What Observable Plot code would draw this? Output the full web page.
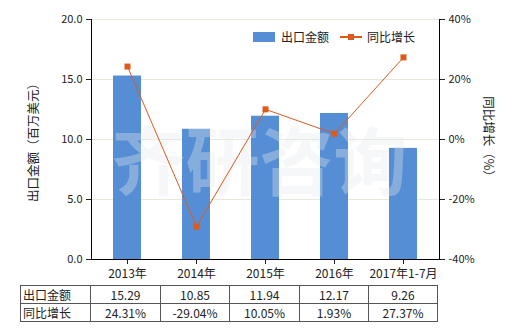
<!DOCTYPE html>
<html>
<head>
<meta charset="utf-8">
<script src="https://cdn.jsdelivr.net/npm/d3@7"></script>
<script src="https://cdn.jsdelivr.net/npm/@observablehq/plot@0.6"></script>
<style>
  body { margin: 0; background: #fff; font-family: "Noto Sans CJK SC", "Noto Sans", sans-serif; }
  #wrap { position: relative; width: 520px; height: 330px; overflow: hidden; }
  #chart { position: absolute; left: 0; top: 0; }
  .legend { position: absolute; font-size: 12px; color: #222; line-height: 14px; }
  table { position: absolute; left: 20px; top: 285px; border-collapse: collapse; font-size: 12px; color: #222; table-layout: fixed; }
  td { border: 1px solid #555; height: 17px; padding: 0; text-align: center; line-height: 17px; }
  td.h { text-align: left; padding-left: 2px; }
</style>
</head>
<body>
<div id="wrap">
  <div id="chart"></div>
  <div class="legend" style="left:253px;top:32px;width:22px;height:10px;background:#558ed5"></div>
  <div class="legend" style="left:281px;top:30px;">出口金额</div>
  <div class="legend" style="left:340px;top:36px;width:22px;height:2px;background:#dd5a1f"></div>
  <div class="legend" style="left:348px;top:34px;width:6px;height:6px;background:#dd5a1f"></div>
  <div class="legend" style="left:367px;top:30px;">同比增长</div>
  <table id="tbl"></table>
</div>
<script>
const categories = ["2013年", "2014年", "2015年", "2016年", "2017年1-7月"];
const exportValues = [15.29, 10.85, 11.94, 12.17, 9.26];
const growthValues = [24.31, -29.04, 10.05, 1.93, 27.37];
const leftTicks = [0, 5, 10, 15, 20];
const rightTicks = [-40, -20, 0, 20, 40];
const seriesNames = ["出口金额", "同比增长"];

const data = categories.map((c, i) => ({cat: c, v: exportValues[i], g: growthValues[i]}));
const g2y = g => (g + 40) / 4;  // map right axis (-40..40) onto left (0..20)

const plot = Plot.plot({
  width: 520,
  height: 280,
  marginTop: 19,
  marginBottom: 21,
  marginLeft: 91,
  marginRight: 81,
  style: {fontFamily: "Noto Sans CJK SC, Noto Sans, sans-serif", fontSize: "11px", color: "#222"},
  x: {domain: categories, paddingInner: 0.6, paddingOuter: 0.3, label: null},
  y: {domain: [0, 20], label: null},
  marks: [
    Plot.ruleY([5, 10, 15, 20], {stroke: "#e9e8dc", strokeWidth: 1}),
    Plot.barY(data, {x: "cat", y: "v", fill: "#558ed5"}),
    Plot.text(["齐研咨询"], {frameAnchor: "middle", textAnchor: "middle", dx: -6, dy: 26, fontSize: 74, fontWeight: "bold", fill: "#e4e8ee", fillOpacity: 0.35, letterSpacing: 16}),
    Plot.line(data, {x: "cat", y: d => g2y(d.g), stroke: "#dd5a1f", strokeWidth: 1}),
    Plot.dot(data, {x: "cat", y: d => g2y(d.g), symbol: "square", r: 3.4, fill: "#dd5a1f", stroke: null}),
    Plot.axisY({anchor: "left", ticks: leftTicks, tickFormat: d3.format(".1f"), tickSize: 5, label: null, fontSize: 11}),
    Plot.axisY({anchor: "right", ticks: rightTicks.map(g2y), tickFormat: d => (d * 4 - 40) + "%", tickSize: 5, label: null, fontSize: 11}),
    Plot.axisX({tickSize: 5, label: null, fontSize: 12, tickPadding: 5}),
    Plot.frame({anchor: "left", stroke: "#000"}),
    Plot.frame({anchor: "right", stroke: "#000"}),
    Plot.ruleY([0], {stroke: "#000"}),
    Plot.text(["出口金额（百万美元）"], {frameAnchor: "left", textAnchor: "middle", dx: -58, rotate: -90, fontSize: 12.5, fill: "#222"}),
    Plot.text(["同比增长（%）"], {frameAnchor: "right", textAnchor: "middle", dx: 48, rotate: 90, fontSize: 12.5, fill: "#222"})
  ]
});
document.getElementById("chart").appendChild(plot);

const tbl = document.getElementById("tbl");
const widths = [70, 70, 69, 70, 69, 69];
const cg = document.createElement("colgroup");
widths.forEach(w => { const c = document.createElement("col"); c.style.width = w + "px"; cg.appendChild(c); });
tbl.appendChild(cg);
const rows = [
  [seriesNames[0], ...exportValues.map(v => v.toFixed(2))],
  [seriesNames[1], ...growthValues.map(v => v.toFixed(2) + "%")]
];
rows.forEach(r => {
  const tr = document.createElement("tr");
  r.forEach((t, i) => {
    const td = document.createElement("td");
    td.textContent = t;
    if (i === 0) td.className = "h";
    tr.appendChild(td);
  });
  tbl.appendChild(tr);
});
</script>
</body>
</html>
